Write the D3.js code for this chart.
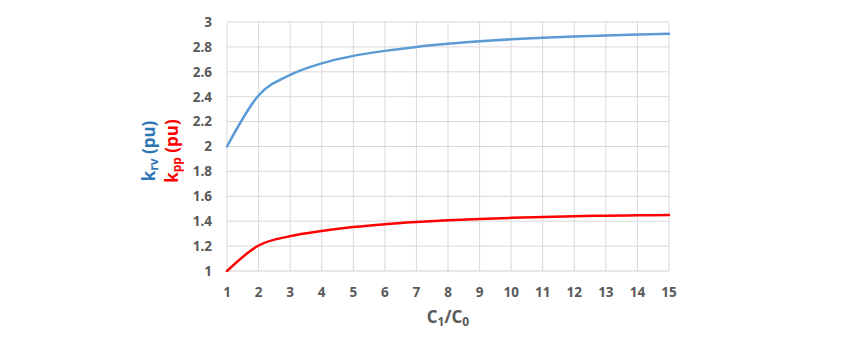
<!DOCTYPE html>
<html>
<head>
<meta charset="utf-8">
<script src="https://cdn.jsdelivr.net/npm/d3@7"></script>
<style>
  html, body { margin: 0; padding: 0; background: #fff; }
  svg { display: block; }
  text { font-family: "Open Sans", "Liberation Sans", sans-serif; }
</style>
</head>
<body>
<svg id="chart" width="848" height="342"></svg>
<script>
// Capacitance ratio C1/C0
const ratios = [1, 2, 3, 4, 5, 6, 7, 8, 9, 10, 11, 12, 13, 14, 15];
// k_rv (pu)
const krv = [2.00, 2.41, 2.575, 2.668, 2.728, 2.768, 2.80, 2.825, 2.845, 2.861, 2.874, 2.884, 2.892, 2.899, 2.905];
// k_pp (pu)
const kpp = [1.00, 1.205, 1.28, 1.322, 1.353, 1.376, 1.393, 1.407, 1.418, 1.427, 1.434, 1.44, 1.444, 1.447, 1.45];
// axis ticks
const xTicks = [1, 2, 3, 4, 5, 6, 7, 8, 9, 10, 11, 12, 13, 14, 15];
const yTicks = [1, 1.2, 1.4, 1.6, 1.8, 2, 2.2, 2.4, 2.6, 2.8, 3];

const svg = d3.select("#chart");
const plot = { left: 227, right: 669, top: 22, bottom: 271 };

const x = d3.scaleLinear().domain([1, 15]).range([plot.left, plot.right]);
const y = d3.scaleLinear().domain([1, 3]).range([plot.bottom, plot.top]);

const grid = "#d9d9d9";
const labelColor = "#595959";

// vertical gridlines
svg.append("g").selectAll("line").data(xTicks).join("line")
  .attr("x1", d => x(d)).attr("x2", d => x(d))
  .attr("y1", plot.top).attr("y2", plot.bottom)
  .attr("stroke", grid).attr("stroke-width", 1);

// horizontal gridlines
svg.append("g").selectAll("line").data(yTicks.filter(d => d !== 1)).join("line")
  .attr("x1", plot.left).attr("x2", plot.right)
  .attr("y1", d => y(d)).attr("y2", d => y(d))
  .attr("stroke", grid).attr("stroke-width", 1);

// category axis line
svg.append("line")
  .attr("x1", plot.left).attr("x2", plot.right)
  .attr("y1", y(1)).attr("y2", y(1))
  .attr("stroke", "#cfcfcf").attr("stroke-width", 1);

// y tick labels
svg.append("g").selectAll("text").data(yTicks).join("text")
  .attr("x", plot.left - 15)
  .attr("y", d => y(d))
  .attr("dy", "0.36em")
  .attr("text-anchor", "end")
  .attr("font-size", 13.5)
  .attr("font-weight", 700)
  .attr("fill", labelColor)
  .text(d => d3.format("~g")(d));

// x tick labels
svg.append("g").selectAll("text").data(xTicks).join("text")
  .attr("x", d => x(d))
  .attr("y", plot.bottom + 26)
  .attr("text-anchor", "middle")
  .attr("font-size", 13.5)
  .attr("font-weight", 700)
  .attr("fill", labelColor)
  .text(d => d);

// x axis title: C1/C0
const xt = svg.append("text")
  .attr("x", (plot.left + plot.right) / 2)
  .attr("y", 323)
  .attr("text-anchor", "middle")
  .attr("font-size", 17)
  .attr("font-weight", 700)
  .attr("fill", labelColor);
xt.append("tspan").text("C");
xt.append("tspan").attr("font-size", 12).attr("dy", 3).text("1");
xt.append("tspan").attr("dy", -3).text("/C");
xt.append("tspan").attr("font-size", 12).attr("dy", 3).text("0");

// rotated y axis titles
function yTitle(cx, color, sub) {
  const t = svg.append("text")
    .attr("transform", `translate(${cx},151) rotate(-90)`)
    .attr("text-anchor", "middle")
    .attr("font-size", 17)
    .attr("font-weight", 700)
    .attr("fill", color);
  t.append("tspan").text("k");
  t.append("tspan").attr("font-size", 12).attr("dy", 3).text(sub);
  t.append("tspan").attr("dy", -3).text(" (pu)");
}
yTitle(155, "#2e75b6", "rv");
yTitle(178, "#ff0000", "pp");

// series lines
const line = d3.line()
  .x(d => x(d[0]))
  .y(d => y(d[1]))
  .curve(d3.curveCardinal);

svg.append("path")
  .datum(ratios.map((r, i) => [r, krv[i]]))
  .attr("d", line)
  .attr("fill", "none")
  .attr("stroke", "#5b9bd5")
  .attr("stroke-width", 2.5)
  .attr("stroke-linecap", "round");

svg.append("path")
  .datum(ratios.map((r, i) => [r, kpp[i]]))
  .attr("d", line)
  .attr("fill", "none")
  .attr("stroke", "#ff0000")
  .attr("stroke-width", 2.5)
  .attr("stroke-linecap", "round");
</script>
</body>
</html>
